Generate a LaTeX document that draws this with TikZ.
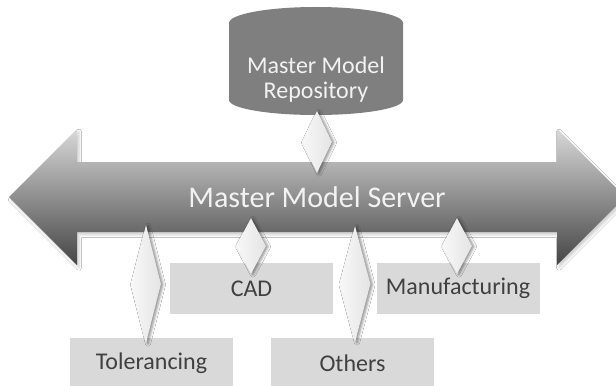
\documentclass[tikz,border=0pt]{standalone}
\usepackage{fontspec}
\setmainfont{Carlito}
\usetikzlibrary{shapes.geometric,shadows.blur}
\definecolor{boxgray}{HTML}{D9D9D9}
\definecolor{labelgray}{HTML}{404040}
\definecolor{repogray}{HTML}{7F7F7F}
\definecolor{arrowtop}{HTML}{D8D8D8}
\definecolor{arrowbot}{HTML}{454545}
\definecolor{linklight}{HTML}{F8F8F8}
\definecolor{linkdark}{HTML}{E4E4E4}
\definecolor{softwhite}{HTML}{F2F2F2}

\begin{document}
\begin{tikzpicture}[x=0.75pt,y=0.75pt,
  module/.style={rectangle, fill=boxgray, minimum width=122.25pt,
    minimum height=38.25pt, inner sep=0pt, text=labelgray,
    font=\fontsize{18}{20}\selectfont},
  link/.style={diamond, inner sep=0pt, left color=linklight, right color=linkdark,
    blur shadow={shadow xshift=1.5pt, shadow yshift=-0.5pt,
      shadow blur radius=2pt, shadow opacity=45}},
]
\useasboundingbox (0,0) rectangle (616,-385);
\clip (0,0) rectangle (616,-385);
\fill[white] (0,0) rectangle (616,-385);

% double-headed bus arrow
\path[top color=arrowtop, bottom color=arrowbot,
      blur shadow={shadow xshift=1.5pt, shadow yshift=-2pt,
        shadow blur radius=2pt, shadow opacity=20}]
  (9,-197) -- (77,-129) -- (77,-162) -- (557,-162) -- (557,-129)
  -- (625,-197) -- (557,-265) -- (557,-232) -- (77,-232) -- (77,-265) -- cycle;
\node[text=softwhite, font=\fontsize{22.5}{24}\selectfont, anchor=base]
  (server) at (317,-207) {Master Model Server};

% repository drum
\fill[repogray] (229,-23) arc[start angle=180, end angle=0, x radius=87, y radius=16]
  -- (403,-100) arc[start angle=0, end angle=-180, x radius=87, y radius=15] -- cycle;
\node[text=softwhite, font=\fontsize{18}{18.75}\selectfont, align=center]
  (repo) at (316,-80) {Master Model\\Repository};

% application modules
\node[module] (cad) at (251.5,-288.5) {CAD};
\node[module] (mfg) at (458,-288.5) {Manufacturing};
\node[module] (tol) at (151.5,-363.5) {Tolerancing};
\node[module] (oth) at (352.5,-363.5) {Others};

% diamond links to the bus
\node[link, minimum width=22.5pt, minimum height=46.5pt] (repolink) at (317,-142) {};
\node[link, minimum width=22.5pt, minimum height=88.5pt] (tollink) at (146,-284) {};
\node[link, minimum width=22.5pt, minimum height=42pt] (cadlink) at (251,-246) {};
\node[link, minimum width=23.25pt, minimum height=87pt] (othlink) at (355,-284) {};
\node[link, minimum width=22.5pt, minimum height=42pt] (mfglink) at (457,-246) {};
\end{tikzpicture}
\end{document}
